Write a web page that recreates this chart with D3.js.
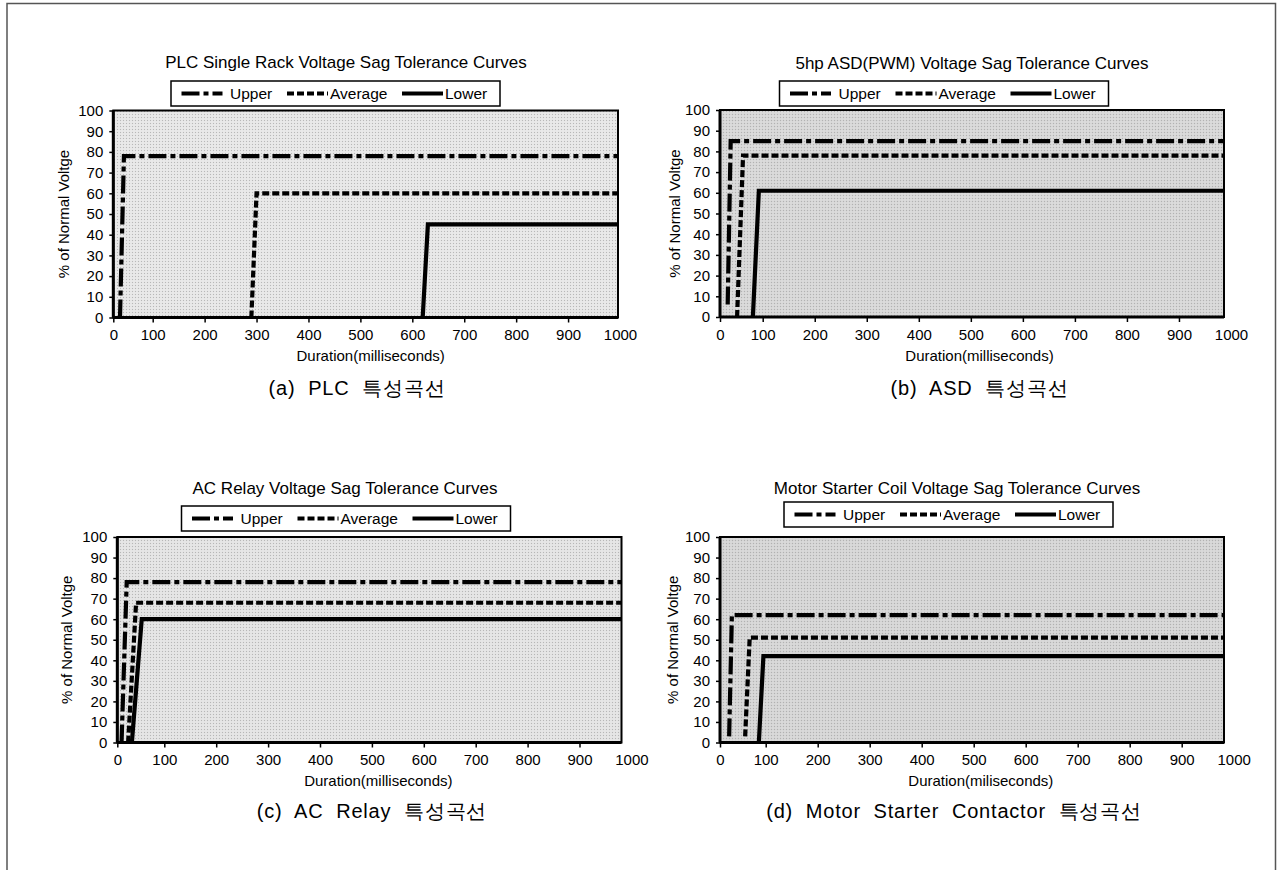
<!DOCTYPE html>
<html>
<head>
<meta charset="utf-8">
<script src="https://cdn.jsdelivr.net/npm/d3@7"></script>
<style>
  body { margin: 0; background: #fff; }
  svg { display: block; }
  text { font-family: "Liberation Sans", Arial, sans-serif; fill: #000; }
  .caption { white-space: pre; letter-spacing: 0.8px; }
</style>
</head>
<body>
<svg id="fig" width="1277" height="870"></svg>
<script>
// DATA
const durationTicks = [0, 100, 200, 300, 400, 500, 600, 700, 800, 900, 1000];
const voltageTicks = [0, 10, 20, 30, 40, 50, 60, 70, 80, 90, 100];
const seriesNames = ["Upper", "Average", "Lower"];
const panelTitles = [
  "PLC Single Rack Voltage Sag Tolerance Curves",
  "5hp ASD(PWM) Voltage Sag Tolerance Curves",
  "AC Relay Voltage Sag Tolerance Curves",
  "Motor Starter Coil Voltage Sag Tolerance Curves",
];
const panelCaptions = [
  "(a)  PLC  특성곡선",
  "(b)  ASD  특성곡선",
  "(c)  AC  Relay  특성곡선",
  "(d)  Motor  Starter  Contactor  특성곡선",
];
const durationTitles = [
  "Duration(milliseconds)",
  "Duration(milliseconds)",
  "Duration(milliseconds)",
  "Duration(miliseconds)",
];
const voltageTitle = "% of Normal Voltge";

// [duration ms, % of normal voltage]
const plcUpper = [[17, 0], [27, 78], [1000, 78]];
const plcAverage = [[290, 0], [300, 60], [1000, 60]];
const plcLower = [[620, 0], [630, 45], [1000, 45]];

const asdUpper = [[18, 6], [25, 85], [1000, 85]];
const asdAverage = [[40, 0], [54, 78], [1000, 78]];
const asdLower = [[77, 0], [91, 61], [1000, 61]];

const relayUpper = [[9, 0], [20, 78], [1000, 78]];
const relayAverage = [[23, 0], [40, 68], [1000, 68]];
const relayLower = [[31, 0], [52, 60], [1000, 60]];

const motorUpper = [[20, 3], [26, 62], [1000, 62]];
const motorAverage = [[55, 3], [65, 51], [1000, 51]];
const motorLower = [[85, 0], [95, 42], [1000, 42]];

// LAYOUT
const panels = [
  { series: [plcUpper, plcAverage, plcLower],
    left: 113.3, x100: 152.7, x1000: 620, right: 618, top: 110.5, bottom: 317.5,
    fill: "#e6e6e6", titleX: 346, titleY: 62, legendX: 171, legendY: 81,
    yTitleX: 63, captionX: 357, captionY: 388 },
  { series: [asdUpper, asdAverage, asdLower],
    left: 720, x100: 762.7, x1000: 1231, right: 1224, top: 110, bottom: 317,
    fill: "#d6d6d6", titleX: 972, titleY: 63, legendX: 779.5, legendY: 81,
    yTitleX: 674.5, captionX: 979.5, captionY: 388 },
  { series: [relayUpper, relayAverage, relayLower],
    left: 117.3, x100: 164.3, x1000: 631.4, right: 621.5, top: 537, bottom: 742.5,
    fill: "#e3e3e3", titleX: 345, titleY: 488, legendX: 181.5, legendY: 506,
    yTitleX: 66.8, captionX: 372, captionY: 811 },
  { series: [motorUpper, motorAverage, motorLower],
    left: 720, x100: 765.7, x1000: 1233.7, right: 1224, top: 537, bottom: 742.5,
    fill: "#d4d4d4", titleX: 957, titleY: 488, legendX: 784, legendY: 502,
    yTitleX: 672.5, captionX: 954, captionY: 811 },
];

const dashes = ["18,4,5,4", "7,3", null];
const legendSampleOffsets = [10.5, 116, 231];
const legendSampleLength = 41;
const legendTextOffsets = [59, 159, 274];

const svg = d3.select("#fig");

// figure border (scanned page frame)
svg.append("path")
  .attr("d", "M7,870 V3.5 H1275.5 V870")
  .attr("fill", "none")
  .attr("stroke", "#555")
  .attr("stroke-width", 1.5);

const defs = svg.append("defs");
const dots = defs.append("pattern")
  .attr("id", "halftone")
  .attr("width", 3)
  .attr("height", 3)
  .attr("patternUnits", "userSpaceOnUse");
dots.append("rect").attr("width", 1).attr("height", 1).attr("fill", "#9a9a9a");
dots.append("rect").attr("x", 1.5).attr("y", 1.5).attr("width", 1).attr("height", 1).attr("fill", "#f6f6f6");

panels.forEach((p, i) => {
  const g = svg.append("g");

  const x = d3.scaleLinear().domain([0, 100, 1000]).range([p.left, p.x100, p.x1000]);
  const y = d3.scaleLinear().domain([0, 100]).range([p.bottom, p.top]);

  defs.append("clipPath").attr("id", "clip" + i)
    .append("rect")
    .attr("x", p.left).attr("y", p.top - 4)
    .attr("width", p.right - p.left).attr("height", p.bottom - p.top + 4);

  // plot area
  g.append("rect")
    .attr("x", p.left).attr("y", p.top)
    .attr("width", p.right - p.left).attr("height", p.bottom - p.top)
    .attr("fill", p.fill);
  g.append("rect")
    .attr("x", p.left).attr("y", p.top)
    .attr("width", p.right - p.left).attr("height", p.bottom - p.top)
    .attr("fill", "url(#halftone)")
    .attr("opacity", 0.6);

  // series
  const line = d3.line().x((d) => x(d[0])).y((d) => y(d[1]));
  g.append("g")
    .attr("clip-path", `url(#clip${i})`)
    .selectAll("path")
    .data(p.series)
    .join("path")
    .attr("d", line)
    .attr("fill", "none")
    .attr("stroke", "#000")
    .attr("stroke-width", 4.2)
    .attr("stroke-dasharray", (d, k) => dashes[k]);

  // frame
  g.append("rect")
    .attr("x", p.left).attr("y", p.top)
    .attr("width", p.right - p.left).attr("height", p.bottom - p.top)
    .attr("fill", "none")
    .attr("stroke", "#000")
    .attr("stroke-width", 2);

  // axes
  const gx = g.append("g")
    .attr("transform", `translate(0,${p.bottom})`)
    .call(d3.axisBottom(x).tickValues(durationTicks).tickFormat(d3.format("d"))
      .tickSize(5).tickPadding(7));
  gx.select(".domain").attr("stroke", "#000").attr("stroke-width", 3)
    .attr("d", `M${p.left},0H${p.right}`);
  gx.selectAll(".tick line").attr("stroke", "#000").attr("stroke-width", 1.5)
    .filter((d) => x(d) > p.right + 1).remove();
  gx.selectAll(".tick text")
    .attr("font-size", 15)
    .attr("font-family", "'Liberation Sans', Arial, sans-serif");

  const gy = g.append("g")
    .attr("transform", `translate(${p.left},0)`)
    .call(d3.axisLeft(y).tickValues(voltageTicks).tickSize(4).tickPadding(6));
  gy.select(".domain").attr("stroke", "#000").attr("stroke-width", 3)
    .attr("d", `M0,${p.top}V${p.bottom}`);
  gy.selectAll(".tick line").attr("stroke", "#000").attr("stroke-width", 1.5);
  gy.selectAll(".tick text")
    .attr("font-size", 15)
    .attr("font-family", "'Liberation Sans', Arial, sans-serif");

  // axis titles
  g.append("text")
    .attr("x", (p.left + p.x1000) / 2 + 4)
    .attr("y", p.bottom + 38)
    .attr("text-anchor", "middle")
    .attr("dominant-baseline", "central")
    .attr("font-size", 15)
    .text(durationTitles[i]);

  g.append("text")
    .attr("transform", `translate(${p.yTitleX},${(p.top + p.bottom) / 2}) rotate(-90)`)
    .attr("text-anchor", "middle")
    .attr("dominant-baseline", "central")
    .attr("font-size", 15)
    .text(voltageTitle);

  // chart title
  g.append("text")
    .attr("x", p.titleX)
    .attr("y", p.titleY)
    .attr("text-anchor", "middle")
    .attr("dominant-baseline", "central")
    .attr("font-size", 17)
    .text(panelTitles[i]);

  // legend
  const lg = g.append("g").attr("transform", `translate(${p.legendX},${p.legendY})`);
  lg.append("rect")
    .attr("width", 329).attr("height", 25)
    .attr("fill", "#fff")
    .attr("stroke", "#000")
    .attr("stroke-width", 1.5);
  lg.selectAll("line")
    .data(seriesNames)
    .join("line")
    .attr("x1", (d, k) => legendSampleOffsets[k])
    .attr("x2", (d, k) => legendSampleOffsets[k] + legendSampleLength)
    .attr("y1", 12.5).attr("y2", 12.5)
    .attr("stroke", "#000")
    .attr("stroke-width", 4.2)
    .attr("stroke-dasharray", (d, k) => dashes[k]);
  lg.selectAll("text")
    .data(seriesNames)
    .join("text")
    .attr("x", (d, k) => legendTextOffsets[k])
    .attr("y", 12.5)
    .attr("dominant-baseline", "central")
    .attr("font-size", 15.5)
    .text((d) => d);

  // caption
  svg.append("text")
    .attr("class", "caption")
    .attr("x", p.captionX)
    .attr("y", p.captionY)
    .attr("text-anchor", "middle")
    .attr("dominant-baseline", "central")
    .attr("font-size", 20)
    .attr("font-family", "'Noto Sans CJK KR', 'Noto Sans', sans-serif")
    .text(panelCaptions[i]);
});
</script>
</body>
</html>
